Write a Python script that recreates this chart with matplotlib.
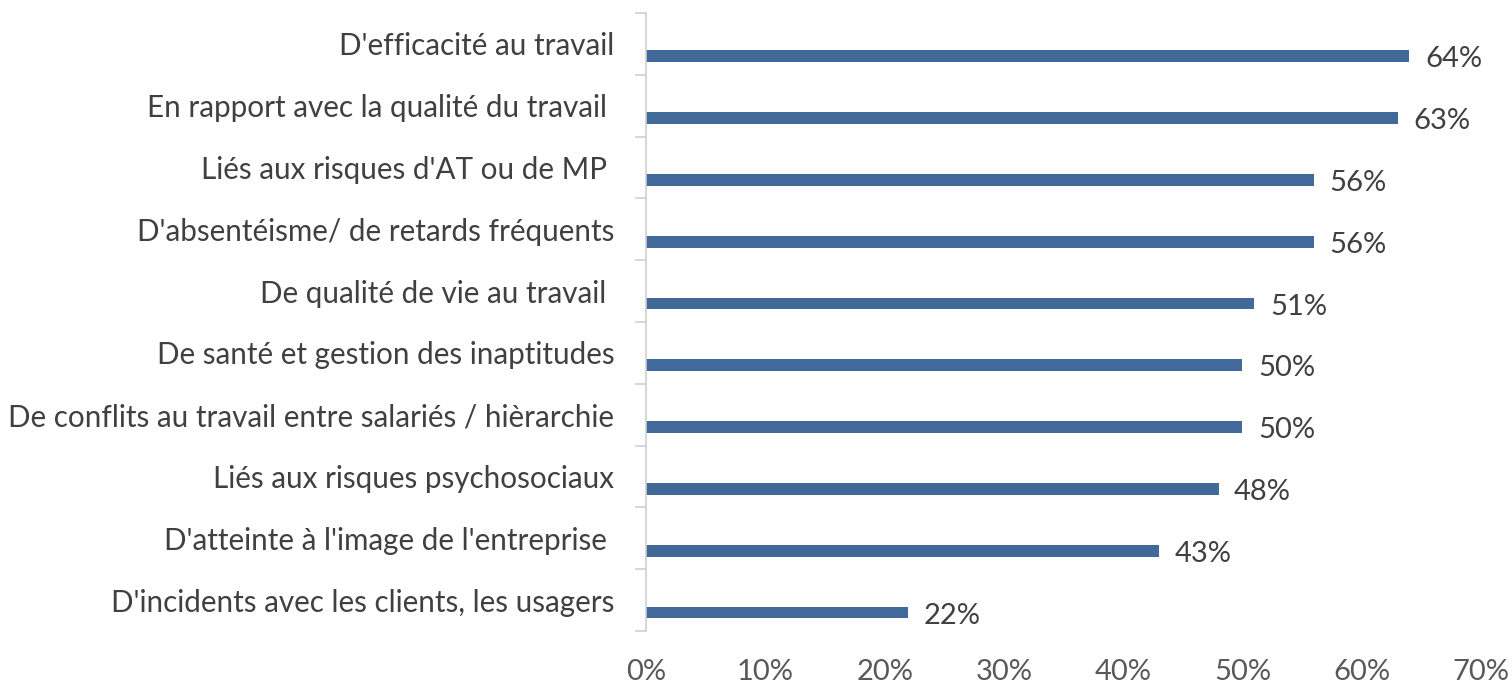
import numpy as np
import matplotlib.pyplot as plt

categories = [
    "D'efficacité au travail",
    "En rapport avec la qualité du travail ",
    "Liés aux risques d'AT ou de MP ",
    "D'absentéisme/ de retards fréquents",
    "De qualité de vie au travail ",
    "De santé et gestion des inaptitudes",
    "De conflits au travail entre salariés / hièrarchie",
    "Liés aux risques psychosociaux",
    "D'atteinte à l'image de l'entreprise ",
    "D'incidents avec les clients, les usagers",
]
values = [64, 63, 56, 56, 51, 50, 50, 48, 43, 22]
x_ticks = [0, 10, 20, 30, 40, 50, 60, 70]

plt.rcParams['font.family'] = ['Lato', 'DejaVu Sans']

fig = plt.figure(figsize=(15.12, 6.84), dpi=100)
ax = fig.add_axes([0.4273, 0.0775, 0.5522, 0.9035])

bar_color = '#41699a'
axis_color = '#d0d0d0'
ypos = np.arange(len(categories))

# bars sit slightly below the band centre (Excel style)
ax.barh(ypos + 0.2, values, height=0.19, color=bar_color)
for y, v in zip(ypos, values):
    ax.text(v + 1.3, y + 0.25, f"{v}%", va='center', ha='left',
            fontsize=21, color='#404040')

ax.set_ylim(len(categories) - 0.5, -0.5)
ax.set_xlim(0, 70)

ax.set_yticks(ypos)
ax.set_yticklabels(categories, fontsize=21.3, color='#404040')
ax.set_yticks(np.arange(len(categories) + 1) - 0.5, minor=True)
ax.tick_params(axis='y', which='major', length=0, pad=23)
ax.tick_params(axis='y', which='minor', length=8, color=axis_color, width=1.2)

ax.set_xticks(x_ticks)
ax.set_xticklabels([f"{t}%" for t in x_ticks], fontsize=21, color='#595959')
ax.tick_params(axis='x', length=0, pad=20)

for side in ['top', 'right', 'bottom']:
    ax.spines[side].set_visible(False)
ax.spines['left'].set_color(axis_color)
ax.spines['left'].set_linewidth(1.2)

fig.savefig('out.png', dpi=100)
